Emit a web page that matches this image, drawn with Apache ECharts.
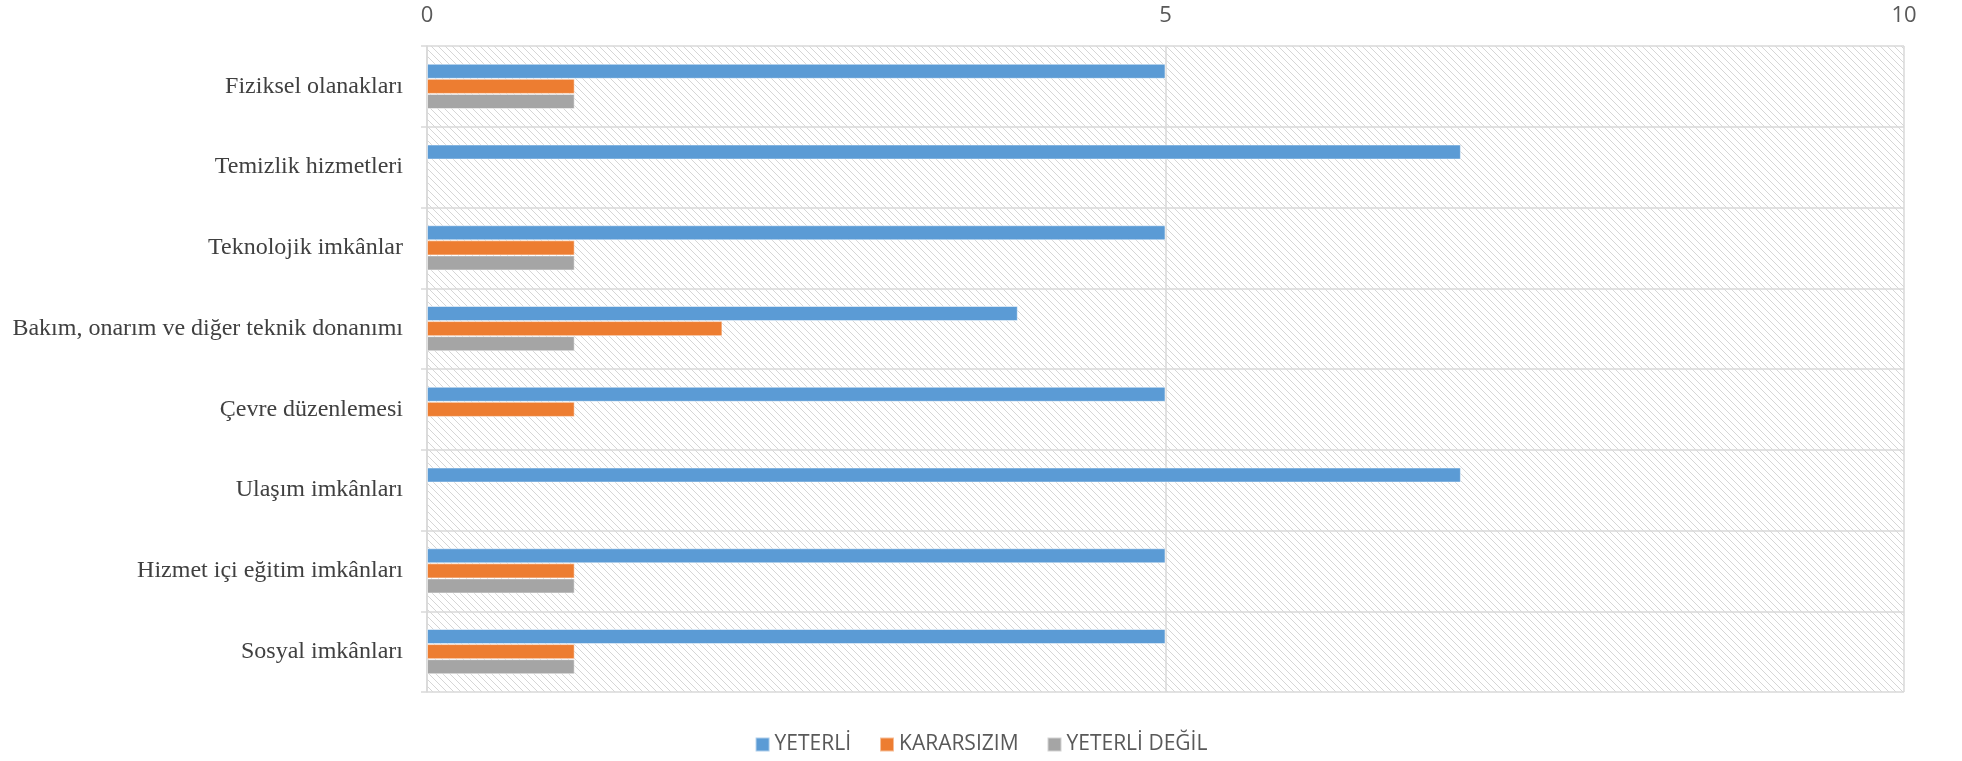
<!DOCTYPE html>
<html>
<head>
<meta charset="utf-8">
<script src="https://cdn.jsdelivr.net/npm/echarts@6/dist/echarts.min.js"></script>
<style>
  html, body { margin: 0; padding: 0; background: #fff; }
  #chart { width: 1962px; height: 761px; }
</style>
</head>
<body>
<div id="chart"></div>
<script>
const categories = [
  "Fiziksel olanakları",
  "Temizlik hizmetleri",
  "Teknolojik imkânlar",
  "Bakım, onarım ve diğer teknik donanımı",
  "Çevre düzenlemesi",
  "Ulaşım imkânları",
  "Hizmet içi eğitim imkânları",
  "Sosyal imkânları",
]
const yeterli = [5, 7, 5, 4, 5, 7, 5, 5]
const kararsizim = [1, null, 1, 2, 1, null, 1, 1]
const yeterliDegil = [1, null, 1, 1, null, null, 1, 1]
const xTicks = [0, 5, 10]

// diagonal hatch used as plot background
function hatch() {
  const c = document.createElement("canvas")
  c.width = 7
  c.height = 7
  const g = c.getContext("2d")
  g.fillStyle = "#fff"
  g.fillRect(0, 0, 7, 7)
  g.strokeStyle = "#d6d6d6"
  g.lineWidth = 1
  g.beginPath()
  g.moveTo(-2, -2)
  g.lineTo(9, 9)
  g.moveTo(-2, 5)
  g.lineTo(2, 9)
  g.moveTo(5, -2)
  g.lineTo(9, 2)
  g.stroke()
  return c
}

const chart = echarts.init(document.getElementById("chart"))

const bar = (name, data, color) => ({
  name: name,
  type: "bar",
  data: data,
  barGap: "0%",
  barCategoryGap: "44%",
  itemStyle: { color: color, borderColor: "rgba(255,255,255,0.5)", borderWidth: 1 },
})

chart.setOption({
  animation: false,
  grid: {
    left: 427,
    right: 58,
    top: 46,
    bottom: 69,
    show: true,
    borderWidth: 0,
    backgroundColor: { image: hatch(), repeat: "repeat" },
  },
  legend: {
    bottom: 1,
    left: "center",
    itemWidth: 14,
    itemHeight: 14,
    itemGap: 28,
    icon: "rect",
    textStyle: { fontFamily: "Liberation Sans Narrow, Open Sans", fontSize: 21, color: "#595959" },
    data: ["YETERLİ", "KARARSIZIM", "YETERLİ DEĞİL"],
  },
  xAxis: {
    type: "value",
    position: "top",
    min: 0,
    max: 10,
    interval: 5,
    axisLine: { show: false },
    axisTick: { show: false },
    axisLabel: {
      margin: 19,
      fontFamily: "Liberation Sans Narrow, Open Sans",
      fontSize: 22,
      color: "#595959",
      customValues: xTicks,
    },
    splitLine: { lineStyle: { color: "#d9d9d9", width: 1.5 } },
  },
  yAxis: {
    type: "category",
    inverse: true,
    data: categories,
    axisLine: { show: true, lineStyle: { color: "#d9d9d9", width: 1.5 } },
    axisTick: { show: true, length: 6, lineStyle: { color: "#d9d9d9", width: 1.5 } },
    splitLine: { show: true, lineStyle: { color: "#d9d9d9", width: 1.5 } },
    axisLabel: {
      margin: 24,
      fontFamily: "Liberation Serif, Times New Roman",
      fontSize: 24,
      color: "#404040",
    },
  },
  series: [
    bar("YETERLİ", yeterli, "#5b9bd5"),
    bar("KARARSIZIM", kararsizim, "#ed7d31"),
    bar("YETERLİ DEĞİL", yeterliDegil, "#a5a5a5"),
  ],
})
</script>
</body>
</html>
